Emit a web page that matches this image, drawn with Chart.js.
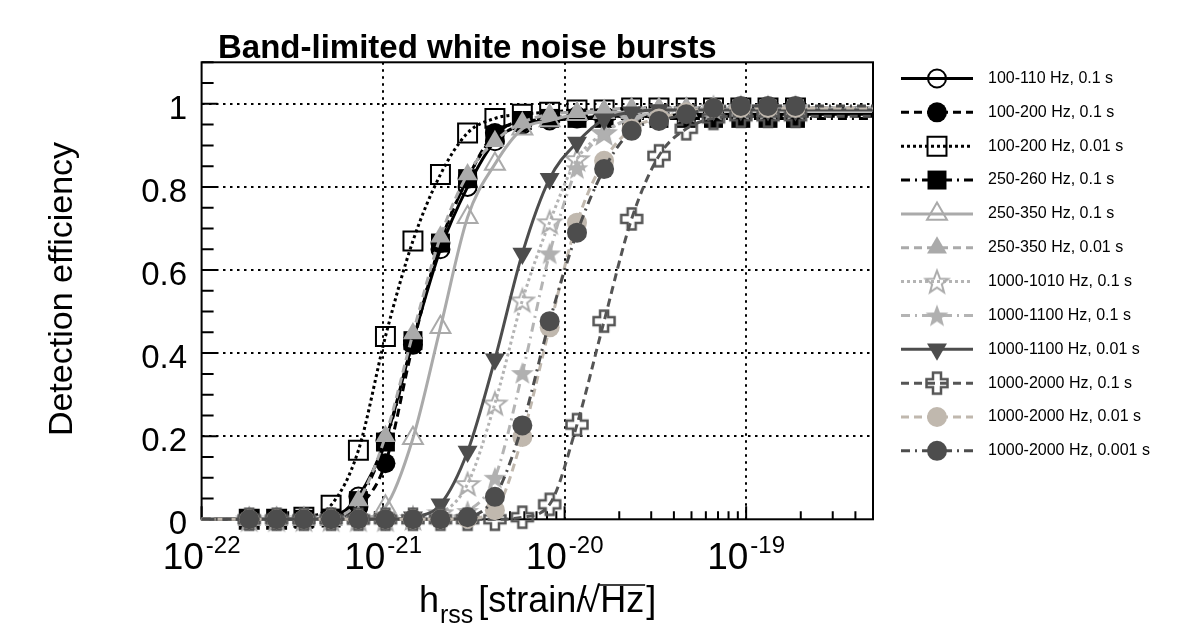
<!DOCTYPE html>
<html><head><meta charset="utf-8">
<script src="https://cdn.jsdelivr.net/npm/chart.js@4.4.1/dist/chart.umd.min.js"></script>
<style>html,body{margin:0;padding:0;background:#fff}#wrap{width:1181px;height:625px;position:relative}</style>
</head><body><div id="wrap"><canvas id="c" width="1181" height="625"></canvas></div>
<script>
// ---------- DATA ----------
const hrss = [1.83e-22, 2.59e-22, 3.66e-22, 5.17e-22, 7.31e-22, 1.03e-21, 1.46e-21, 2.07e-21, 2.92e-21, 4.13e-21, 5.85e-21, 8.27e-21, 1.17e-20, 1.65e-20, 2.34e-20, 3.31e-20, 4.68e-20, 6.61e-20, 9.35e-20, 1.32e-19, 1.87e-19];

const seriesLabels = ['100-110 Hz, 0.1 s','100-200 Hz, 0.1 s','100-200 Hz, 0.01 s','250-260 Hz, 0.1 s','250-350 Hz, 0.1 s','250-350 Hz, 0.01 s','1000-1010 Hz, 0.1 s','1000-1100 Hz, 0.1 s','1000-1100 Hz, 0.01 s','1000-2000 Hz, 0.1 s','1000-2000 Hz, 0.01 s','1000-2000 Hz, 0.001 s'];

const eff_100_110_01   = [0,0,0,0.005,0.055,0.19,0.43,0.65,0.80,0.91,0.95,0.96,0.965,0.97,0.97,0.97,0.975,0.975,0.975,0.975,0.975];
const eff_100_200_01   = [0,0,0,0.002,0.03,0.135,0.42,0.665,0.82,0.93,0.955,0.965,0.97,0.97,0.97,0.97,0.97,0.97,0.97,0.97,0.97];
const eff_100_200_001  = [0,0,0.005,0.034,0.166,0.44,0.67,0.83,0.93,0.965,0.975,0.98,0.985,0.985,0.99,0.99,0.99,0.99,0.99,0.99,0.99];
const eff_250_260_01   = [0,0,0,0.003,0.045,0.186,0.43,0.665,0.82,0.925,0.96,0.965,0.965,0.965,0.965,0.965,0.965,0.965,0.965,0.965,0.965];
const eff_250_350_01   = [0,0,0,0,0.002,0.03,0.195,0.462,0.727,0.855,0.94,0.96,0.975,0.98,0.98,0.985,0.985,0.985,0.985,0.985,0.985];
const eff_250_350_001  = [0,0,0,0.003,0.045,0.2,0.447,0.68,0.83,0.91,0.955,0.975,0.98,0.985,0.99,0.99,0.99,0.99,0.99,0.99,0.99];
const eff_1000_1010_01 = [0,0,0,0,0,0,0.003,0.015,0.085,0.279,0.527,0.715,0.867,0.93,0.965,0.98,0.985,0.99,0.99,0.99,0.99];
const eff_1000_1100_01 = [0,0,0,0,0,0,0,0.005,0.02,0.10,0.352,0.64,0.845,0.93,0.965,0.98,0.985,0.99,0.99,0.99,0.99];
const eff_1000_1100_001= [0,0,0,0,0,0,0.005,0.036,0.163,0.385,0.64,0.82,0.907,0.963,0.98,0.985,0.985,0.985,0.985,0.985,0.985];
const eff_1000_2000_01 = [0,0,0,0,0,0,0,0,0,0,0.005,0.036,0.228,0.477,0.723,0.875,0.94,0.965,0.97,0.97,0.97];
const eff_1000_2000_001= [0,0,0,0,0,0,0,0,0.002,0.022,0.198,0.462,0.714,0.863,0.94,0.965,0.98,0.99,0.99,0.99,0.99];
const eff_1000_2000_0001=[0,0,0,0,0,0,0,0,0.005,0.054,0.226,0.477,0.69,0.843,0.935,0.959,0.975,0.99,0.995,0.995,0.995];

const xTickValues = [1e-22, 1e-21, 1e-20, 1e-19];
const xTickExponents = ['-22', '-21', '-20', '-19'];
const yTickValues = [0, 0.2, 0.4, 0.6, 0.8, 1];
const yTickLabels = ['0', '0.2', '0.4', '0.6', '0.8', '1'];
const xMin = 1e-22, xMax = 5e-19, yMin = 0, yMax = 1.1;

const allSeries = [eff_100_110_01, eff_100_200_01, eff_100_200_001, eff_250_260_01, eff_250_350_01, eff_250_350_001,
  eff_1000_1010_01, eff_1000_1100_01, eff_1000_1100_001, eff_1000_2000_01, eff_1000_2000_001, eff_1000_2000_0001];

// ---------- STYLES ----------
const FONT = "'Liberation Sans', Arial, Helvetica, sans-serif";

function starCanvas(filled, color, R) {
  const s = Math.ceil(R * 2 + 4), c = document.createElement('canvas');
  c.width = s; c.height = s;
  const g = c.getContext('2d'), r = R * 0.42;
  g.beginPath();
  for (let i = 0; i < 10; i++) {
    const a = -Math.PI / 2 + i * Math.PI / 5, rr = i % 2 ? r : R;
    const px = s / 2 + rr * Math.cos(a), py = s / 2 + rr * Math.sin(a) + 1;
    i ? g.lineTo(px, py) : g.moveTo(px, py);
  }
  g.closePath();
  if (filled) { g.fillStyle = color; g.fill(); }
  else { g.strokeStyle = color; g.lineWidth = 2; g.stroke(); }
  return c;
}
function crossCanvas(color) {
  const L = 10.5, a = 4, s = 26, c = document.createElement('canvas');
  c.width = s; c.height = s;
  const g = c.getContext('2d'), o = s / 2;
  const pts = [[-a,-L],[a,-L],[a,-a],[L,-a],[L,a],[a,a],[a,L],[-a,L],[-a,a],[-L,a],[-L,-a],[-a,-a]];
  g.beginPath();
  pts.forEach((p, i) => i ? g.lineTo(o + p[0], o + p[1]) : g.moveTo(o + p[0], o + p[1]));
  g.closePath();
  g.strokeStyle = color; g.lineWidth = 2.5; g.stroke();
  return c;
}

const DASH = [8, 5], DOT = [3, 3], DASHDOT = [9, 5, 2, 5];
const styles = [
  {color:'#000000', dash:[],      point:'circle',   r:9,    fill:false},
  {color:'#000000', dash:DASH,    point:'circle',   r:10,   fill:true},
  {color:'#000000', dash:DOT,     point:'rect',     r:13.4, fill:false},
  {color:'#000000', dash:DASHDOT, point:'rect',     r:13.4, fill:true},
  {color:'#aaaaaa', dash:[],      point:'triangle', r:11.5, fill:false},
  {color:'#aaaaaa', dash:DASH,    point:'triangle', r:11.5, fill:true},
  {color:'#b4b4b4', dash:DOT,     point:starCanvas(false,'#acacac',12), r:12, fill:false},
  {color:'#b4b4b4', dash:DASHDOT, point:starCanvas(true,'#b0b0b0',12),  r:12, fill:true},
  {color:'#4d4d4d', dash:[],      point:'triangle', r:11.5, fill:true, rot:180},
  {color:'#555555', dash:DASH,    point:crossCanvas('#555555'), r:11, fill:false},
  {color:'#c0b8ae', dash:DASH,    point:'circle',   r:10,   fill:true},
  {color:'#4d4d4d', dash:DASHDOT, point:'circle',   r:10,   fill:true}
];

const datasets = allSeries.map((vals, i) => {
  const st = styles[i];
  const n = vals.length;
  const data = [{x: xMin, y: 0}]
    .concat(hrss.map((h, k) => ({x: h, y: vals[k]})))
    .concat([{x: xMax, y: vals[n - 1]}]);
  return {
    label: seriesLabels[i],
    data: data,
    order: allSeries.length - i,
    borderColor: st.color,
    borderWidth: 3,
    borderDash: st.dash,
    backgroundColor: st.fill ? st.color : 'rgba(0,0,0,0)',
    pointBackgroundColor: st.fill ? st.color : 'rgba(0,0,0,0)',
    pointBorderColor: st.color,
    pointBorderWidth: st.fill ? 0 : 2,
    pointStyle: st.point,
    pointRotation: st.rot || 0,
    pointRadius: (ctx) => (ctx.dataIndex === 0 || ctx.dataIndex === n + 1) ? 0 : st.r,
    pointHoverRadius: 0,
    cubicInterpolationMode: 'monotone',
    fill: false,
    clip: false
  };
});

// ---------- PLUGINS ----------
const frameTicks = {
  id: 'frameTicks',
  beforeDatasetsDraw(chart) {
    const {ctx, chartArea: a, scales: {x, y}} = chart;
    ctx.save();
    ctx.strokeStyle = '#000'; ctx.lineWidth = 2; ctx.setLineDash([]);
    ctx.strokeRect(a.left, a.top, a.right - a.left, a.bottom - a.top);
    ctx.beginPath();
    for (let k = 0; k <= 22; k++) {
      const v = k * 0.05;
      const py = y.getPixelForValue(v);
      const len = (k % 4 === 0) ? 16 : 12;
      ctx.moveTo(a.left, py); ctx.lineTo(a.left + len, py);
    }
    for (let e = -22; e <= -19; e++) {
      for (let m = 1; m <= 9; m++) {
        const v = m * Math.pow(10, e);
        if (v > xMax * 1.0001) continue;
        const px = x.getPixelForValue(v);
        const len = m === 1 ? 13 : 8;
        ctx.moveTo(px, a.bottom); ctx.lineTo(px, a.bottom - len);
      }
    }
    ctx.stroke();
    ctx.restore();
  }
};

function drawMarker(ctx, st, x, y) {
  ctx.save();
  ctx.setLineDash([]);
  if (typeof st.point === 'object') {
    ctx.drawImage(st.point, x - st.point.width / 2, y - st.point.height / 2);
    ctx.restore(); return;
  }
  ctx.beginPath();
  const r = st.r;
  if (st.point === 'circle') ctx.arc(x, y, r, 0, Math.PI * 2);
  else if (st.point === 'rect') { const s = r * Math.SQRT1_2; ctx.rect(x - s, y - s, 2 * s, 2 * s); }
  else if (st.point === 'triangle') {
    let rad = (st.rot || 0) * Math.PI / 180;
    for (let i = 0; i < 3; i++) {
      const px = x + Math.sin(rad) * r, py = y - Math.cos(rad) * r;
      i ? ctx.lineTo(px, py) : ctx.moveTo(px, py);
      rad += 2 * Math.PI / 3;
    }
    ctx.closePath();
  }
  if (st.fill) { ctx.fillStyle = st.color; ctx.fill(); }
  else { ctx.strokeStyle = st.color; ctx.lineWidth = 2; ctx.stroke(); }
  ctx.restore();
}

const texts = {
  id: 'texts',
  afterDraw(chart) {
    const {ctx, chartArea: a, scales: {x}} = chart;
    ctx.save();
    ctx.fillStyle = '#000';
    // title
    ctx.font = `bold 33px ${FONT}`;
    ctx.textAlign = 'left'; ctx.textBaseline = 'alphabetic';
    ctx.fillText('Band-limited white noise bursts', 218, 58);
    // x tick labels with exponents
    xTickValues.forEach((v, i) => {
      const px = x.getPixelForValue(v);
      ctx.font = `37px ${FONT}`;
      const w1 = ctx.measureText('10').width;
      ctx.font = `24px ${FONT}`;
      const w2 = ctx.measureText(xTickExponents[i]).width;
      const start = px - (w1 + w2 + 2) / 2;
      ctx.font = `37px ${FONT}`;
      ctx.fillText('10', start, 569);
      ctx.font = `24px ${FONT}`;
      ctx.fillText(xTickExponents[i], start + w1 + 2, 553);
    });
    // x axis title
    let cx = 419;
    ctx.font = `36px ${FONT}`;
    ctx.fillText('h', cx, 612); cx += ctx.measureText('h').width + 1;
    ctx.font = `25px ${FONT}`;
    ctx.fillText('rss', cx, 623); cx += ctx.measureText('rss').width + 5;
    ctx.font = `36px ${FONT}`;
    ctx.fillText('[strain/', cx, 612); cx += ctx.measureText('[strain/').width - 6;
    ctx.fillText('\u221A', cx, 612); cx += ctx.measureText('\u221A').width;
    const hzStart = cx;
    ctx.fillText('Hz', cx, 612); cx += ctx.measureText('Hz').width;
    ctx.beginPath(); ctx.lineWidth = 1.5; ctx.strokeStyle = '#000';
    ctx.moveTo(hzStart - 1, 585); ctx.lineTo(cx + 1, 585); ctx.stroke();
    ctx.fillText(']', cx + 2, 612);
    // y axis title
    ctx.save();
    ctx.translate(72, 289); ctx.rotate(-Math.PI / 2);
    ctx.font = `34px ${FONT}`; ctx.textAlign = 'center';
    ctx.fillText('Detection efficiency', 0, 0);
    ctx.restore();
    // legend
    ctx.font = `16px ${FONT}`;
    ctx.textAlign = 'left'; ctx.textBaseline = 'middle';
    seriesLabels.forEach((lab, i) => {
      const st = styles[i];
      const ly = 78.5 + i * 33.85;
      ctx.save();
      ctx.strokeStyle = st.color; ctx.lineWidth = 3; ctx.setLineDash(st.dash);
      ctx.beginPath(); ctx.moveTo(901, ly); ctx.lineTo(973, ly); ctx.stroke();
      ctx.restore();
      drawMarker(ctx, st, 937, ly);
      ctx.fillStyle = '#000';
      ctx.fillText(lab, 988, ly);
    });
    ctx.restore();
  }
};

new Chart(document.getElementById('c'), {
  type: 'line',
  data: { datasets: datasets },
  options: {
    responsive: false,
    devicePixelRatio: 1,
    animation: false,
    events: [],
    layout: { padding: { top: 62.3, right: 308, left: 0, bottom: 0 } },
    plugins: { legend: { display: false }, tooltip: { enabled: false }, title: { display: false } },
    scales: {
      x: {
        type: 'logarithmic', min: xMin, max: xMax,
        afterBuildTicks: (s) => { s.ticks = xTickValues.map(v => ({value: v})); },
        afterFit: (s) => { s.height = 625 - 519.3; },
        ticks: { display: false },
        border: { display: false, dash: [2.5, 4.5] },
        grid: { drawTicks: false, lineWidth: 2,
          color: (c) => (c.tick && c.tick.value <= xMin * 1.0001) ? 'rgba(0,0,0,0)' : '#000' }
      },
      y: {
        type: 'linear', min: yMin, max: yMax,
        afterBuildTicks: (s) => { s.ticks = yTickValues.map(v => ({value: v})); },
        afterFit: (s) => { s.width = 201.6; },
        ticks: {
          padding: 14.6, labelOffset: 6, color: '#000',
          font: { family: FONT, size: 33 },
          callback: (v, i) => yTickLabels[i]
        },
        border: { display: false, dash: [2.5, 4.5] },
        grid: { drawTicks: false, lineWidth: 2,
          color: (c) => (c.tick && c.tick.value === 0) ? 'rgba(0,0,0,0)' : '#000' }
      }
    }
  },
  plugins: [frameTicks, texts]
});
</script>
</body></html>
